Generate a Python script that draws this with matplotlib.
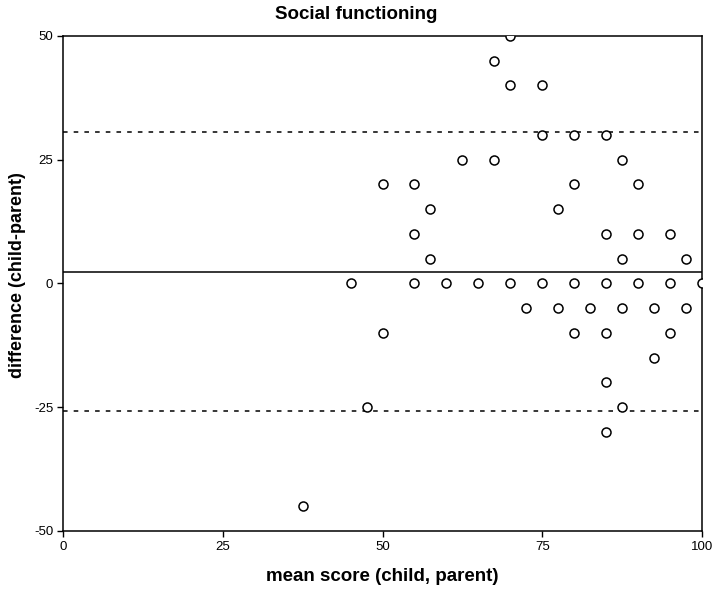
import matplotlib
matplotlib.use("Agg")
import matplotlib.pyplot as plt

plt.rcParams['font.family'] = ['Liberation Sans', 'DejaVu Sans']
plt.rcParams['axes.unicode_minus'] = False

mean_score = [37.5, 45, 47.5, 50, 50, 55, 55, 55, 57.5, 57.5, 60, 62.5, 65,
              67.5, 67.5, 70, 70, 70, 72.5, 75, 75, 75, 77.5, 77.5,
              80, 80, 80, 80, 82.5, 85, 85, 85, 85, 85, 85,
              87.5, 87.5, 87.5, 87.5, 90, 90, 90, 92.5, 92.5,
              95, 95, 95, 97.5, 97.5, 100]
difference = [-45, 0, -25, 20, -10, 20, 10, 0, 15, 5, 0, 25, 0,
              45, 25, 50, 40, 0, -5, 40, 30, 0, 15, -5,
              30, 20, 0, -10, -5, 30, 10, 0, -10, -20, -30,
              25, 5, -5, -25, 20, 10, 0, -5, -15,
              10, 0, -10, 5, -5, 0]

mean_diff = 2.4
upper_loa = 30.7
lower_loa = -25.8

fig = plt.figure(figsize=(7.13, 5.89), dpi=100)
ax = fig.add_axes([0.0884, 0.0985, 0.8962, 0.8404])

ax.plot(mean_score, difference, 'o', mfc='white', mec='black', ms=6.5, mew=1.1, zorder=3)
ax.axhline(mean_diff, color='black', lw=1.1)
ax.axhline(upper_loa, color='black', lw=1.1, ls=(0, (3, 4)))
ax.axhline(lower_loa, color='black', lw=1.1, ls=(0, (3, 4)))

ax.set_xlim(0, 100)
ax.set_ylim(-50, 50)
ax.set_xticks([0, 25, 50, 75, 100])
ax.set_yticks([-50, -25, 0, 25, 50])
ax.tick_params(direction='out', length=4, width=1, labelsize=9.5, pad=3)
for s in ax.spines.values():
    s.set_linewidth(1.1)

ax.set_xlabel("mean score (child, parent)", fontsize=13.5, fontweight='bold')
ax.xaxis.set_label_coords(0.5, -0.075)
ax.set_ylabel("difference (child-parent)", fontsize=13, fontweight='bold')
ax.yaxis.set_label_coords(-0.058, 0.517)
fig.suptitle("Social functioning", fontsize=13.5, fontweight='bold', x=0.5, y=0.99)

fig.savefig("out.png", dpi=100)
